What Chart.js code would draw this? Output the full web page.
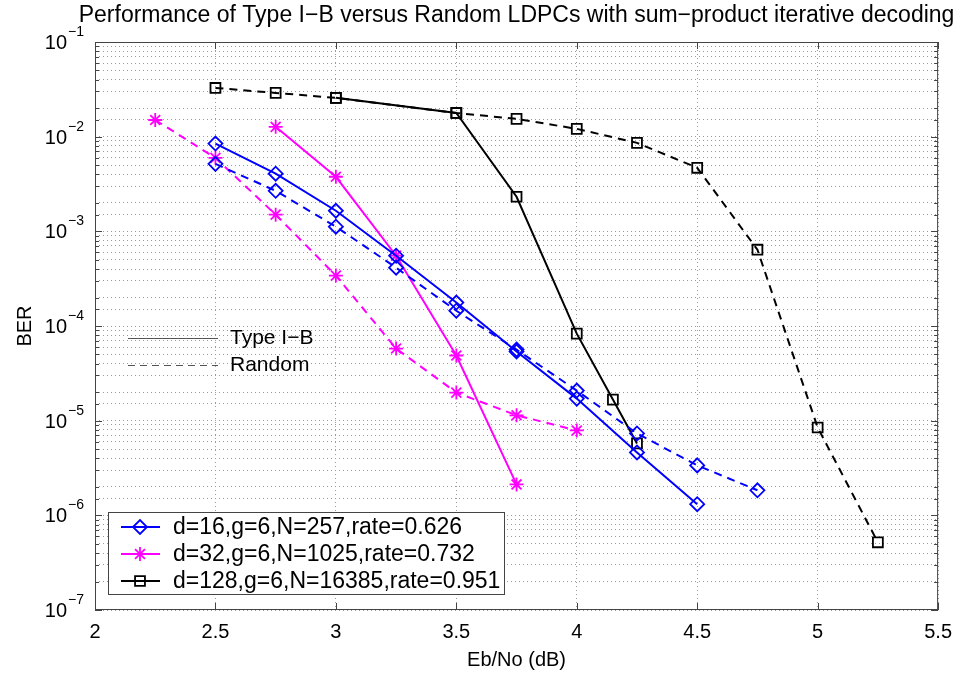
<!DOCTYPE html>
<html>
<head>
<meta charset="utf-8">
<script src="https://cdn.jsdelivr.net/npm/chart.js@4.4.1/dist/chart.umd.min.js"></script>
<style>
  body { margin: 0; background: #fff; }
  canvas { display: block; }
</style>
</head>
<body>
<canvas id="berChart" width="962" height="673"></canvas>
<script>
const FONT = '"Liberation Sans", Arial, Helvetica, sans-serif';

// Eb/No (dB) values per curve
const ebnoD16 = [2.5, 2.75, 3, 3.25, 3.5, 3.75, 4, 4.25, 4.5];
const ebnoD16Rand = [2.5, 2.75, 3, 3.25, 3.5, 3.75, 4, 4.25, 4.5, 4.75];
const ebnoD32 = [2.75, 3, 3.25, 3.5, 3.75];
const ebnoD32Rand = [2.25, 2.5, 2.75, 3, 3.25, 3.5, 3.75, 4];
const ebnoD128 = [3, 3.5, 3.75, 4, 4.15, 4.25];
const ebnoD128Rand = [2.5, 2.75, 3, 3.5, 3.75, 4, 4.25, 4.5, 4.75, 5, 5.25];

// BER values
const berD16 = [8.45e-3, 4.06e-3, 1.65e-3, 5.53e-4, 1.77e-4, 5.37e-5, 1.71e-5, 4.62e-6, 1.31e-6];
const berD16Rand = [5.16e-3, 2.68e-3, 1.12e-3, 4.13e-4, 1.45e-4, 5.63e-5, 2.08e-5, 7.33e-6, 3.37e-6, 1.84e-6];
const berD32 = [1.27e-2, 3.77e-3, 5.53e-4, 4.88e-5, 2.12e-6];
const berD32Rand = [1.50e-2, 5.97e-3, 1.50e-3, 3.41e-4, 5.78e-5, 1.98e-5, 1.14e-5, 7.88e-6];
const berD128 = [2.57e-2, 1.78e-2, 2.32e-3, 8.3e-5, 1.67e-5, 5.75e-6];
const berD128Rand = [3.27e-2, 2.90e-2, 2.57e-2, 1.78e-2, 1.54e-2, 1.21e-2, 8.6e-3, 4.69e-3, 6.4e-4, 8.47e-6, 5.19e-7];

const xTicks = [2, 2.5, 3, 3.5, 4, 4.5, 5, 5.5];
const yTickExps = [-1, -2, -3, -4, -5, -6, -7];

const codeLabels = ['d=16,g=6,N=257,rate=0.626', 'd=32,g=6,N=1025,rate=0.732', 'd=128,g=6,N=16385,rate=0.951'];
const styleLabels = ['Type I\u2212B', 'Random'];
const titleText = 'Performance of Type I\u2212B versus Random LDPCs with sum\u2212product iterative decoding';

const BLUE = '#0000ff', MAGENTA = '#ff00ff', BLACK = '#000000';
const DASH = [8, 6];

function pts(xs, ys) {
  return xs.map((x, i) => ({ x: x, y: ys[i] }));
}

function series(xs, ys, color, marker, dashed) {
  return {
    data: pts(xs, ys),
    borderColor: color,
    borderWidth: 2,
    borderDash: dashed ? DASH : [],
    pointStyle: marker,
    pointRadius: 7,
    pointBorderWidth: 1.8,
    pointBorderColor: color,
    pointBackgroundColor: 'rgba(0,0,0,0)',
    tension: 0,
    fill: false
  };
}

// title, box, inward ticks, y labels with exponents, both legends
const decorations = {
  id: 'decorations',
  afterDraw(chart) {
    const ctx = chart.ctx;
    const a = chart.chartArea;
    const xs = chart.scales.x, ys = chart.scales.y;
    ctx.save();

    // title centred over the axes
    ctx.fillStyle = '#000';
    ctx.font = '23px ' + FONT;
    ctx.textAlign = 'center';
    ctx.textBaseline = 'middle';
    ctx.fillText(titleText, (a.left + a.right) / 2, 16);

    // axes box
    ctx.strokeStyle = '#444';
    ctx.lineWidth = 1;
    ctx.strokeRect(a.left + 0.5, a.top + 0.5, a.right - a.left - 1, a.bottom - a.top - 1);

    // inward tick marks
    ctx.beginPath();
    xTicks.forEach(v => {
      const px = Math.round(xs.getPixelForValue(v)) + 0.5;
      ctx.moveTo(px, a.bottom); ctx.lineTo(px, a.bottom - 7);
      ctx.moveTo(px, a.top); ctx.lineTo(px, a.top + 7);
    });
    ys.ticks.forEach(t => {
      const py = Math.round(ys.getPixelForValue(t.value)) + 0.5;
      const major = Math.abs(Math.log10(t.value) - Math.round(Math.log10(t.value))) < 1e-6;
      const len = major ? 7 : 4;
      ctx.moveTo(a.left, py); ctx.lineTo(a.left + len, py);
      ctx.moveTo(a.right, py); ctx.lineTo(a.right - len, py);
    });
    ctx.stroke();

    // y tick labels 10^k
    ctx.fillStyle = '#000';
    yTickExps.forEach(e => {
      const py = ys.getPixelForValue(Math.pow(10, e));
      ctx.font = '20px ' + FONT;
      ctx.textAlign = 'right';
      ctx.textBaseline = 'alphabetic';
      ctx.fillText('10', 67, py + 7);
      ctx.font = '14px ' + FONT;
      ctx.textAlign = 'left';
      ctx.fillText('\u2212' + Math.abs(e), 68, py - 6);
    });

    // line-style legend (no box)
    ctx.font = '21px ' + FONT;
    ctx.textAlign = 'left';
    ctx.textBaseline = 'middle';
    ctx.strokeStyle = '#555';
    ctx.lineWidth = 1;
    [[338, []], [365, [7, 5]]].forEach((row, i) => {
      ctx.setLineDash(row[1]);
      ctx.beginPath();
      ctx.moveTo(128, row[0] + 0.5); ctx.lineTo(218, row[0] + 0.5);
      ctx.stroke();
      ctx.fillText(styleLabels[i], 230, row[0]);
    });
    ctx.setLineDash([]);

    // code legend box
    ctx.fillStyle = '#fff';
    ctx.fillRect(108, 512, 397, 83);
    ctx.strokeStyle = '#444';
    ctx.strokeRect(108.5, 512.5, 396, 82);
    const legendRows = [
      { color: BLUE, marker: 'rectRot' },
      { color: MAGENTA, marker: 'star' },
      { color: BLACK, marker: 'rect' }
    ];
    legendRows.forEach((r, i) => {
      const y = 527 + i * 27;
      ctx.strokeStyle = r.color;
      ctx.lineWidth = 2;
      ctx.beginPath();
      ctx.moveTo(121, y); ctx.lineTo(160, y);
      ctx.stroke();
      ctx.lineWidth = 1.8;
      ctx.fillStyle = 'rgba(0,0,0,0)';
      Chart.helpers.drawPoint(ctx, { pointStyle: r.marker, radius: 7, borderWidth: 1.8, rotation: 0 }, 140, y);
      ctx.fillStyle = '#000';
      ctx.font = '23px ' + FONT;
      ctx.textAlign = 'left';
      ctx.textBaseline = 'middle';
      ctx.fillText(codeLabels[i], 173, y + 1);
    });

    ctx.restore();
  }
};

const gridStyle = {
  color: '#9a9a9a',
  lineWidth: 1,
  drawTicks: false
};

new Chart(document.getElementById('berChart'), {
  type: 'line',
  data: {
    datasets: [
      series(ebnoD16, berD16, BLUE, 'rectRot', false),
      series(ebnoD16Rand, berD16Rand, BLUE, 'rectRot', true),
      series(ebnoD32, berD32, MAGENTA, 'star', false),
      series(ebnoD32Rand, berD32Rand, MAGENTA, 'star', true),
      series(ebnoD128, berD128, BLACK, 'rect', false),
      series(ebnoD128Rand, berD128Rand, BLACK, 'rect', true)
    ]
  },
  options: {
    responsive: false,
    animation: false,
    devicePixelRatio: 1,
    layout: { padding: { left: 0, right: 19, top: 42, bottom: 0 } },
    plugins: {
      legend: { display: false },
      tooltip: { enabled: false },
      title: { display: false }
    },
    scales: {
      x: {
        type: 'linear',
        min: 2,
        max: 5.5,
        afterFit: s => { s.height = 63; },
        afterBuildTicks: s => { s.ticks = xTicks.map(v => ({ value: v })); },
        ticks: {
          color: '#000',
          padding: 10,
          font: { family: FONT, size: 20 },
          callback: v => String(v)
        },
        grid: gridStyle,
        border: { display: false, dash: [1, 3] },
        title: {
          display: true,
          text: 'Eb/No (dB)',
          color: '#000',
          font: { family: FONT, size: 20 },
          padding: { top: 0, bottom: 1 }
        }
      },
      y: {
        type: 'logarithmic',
        min: 1e-7,
        max: 1e-1,
        afterFit: s => { s.width = 95; },
        ticks: {
          autoSkip: false,
          callback: () => ''
        },
        grid: gridStyle,
        border: { display: false, dash: [1, 3] },
        title: {
          display: true,
          text: 'BER',
          color: '#000',
          font: { family: FONT, size: 20 },
          padding: { top: 13, bottom: 0 }
        }
      }
    }
  },
  plugins: [decorations]
});
</script>
</body>
</html>
